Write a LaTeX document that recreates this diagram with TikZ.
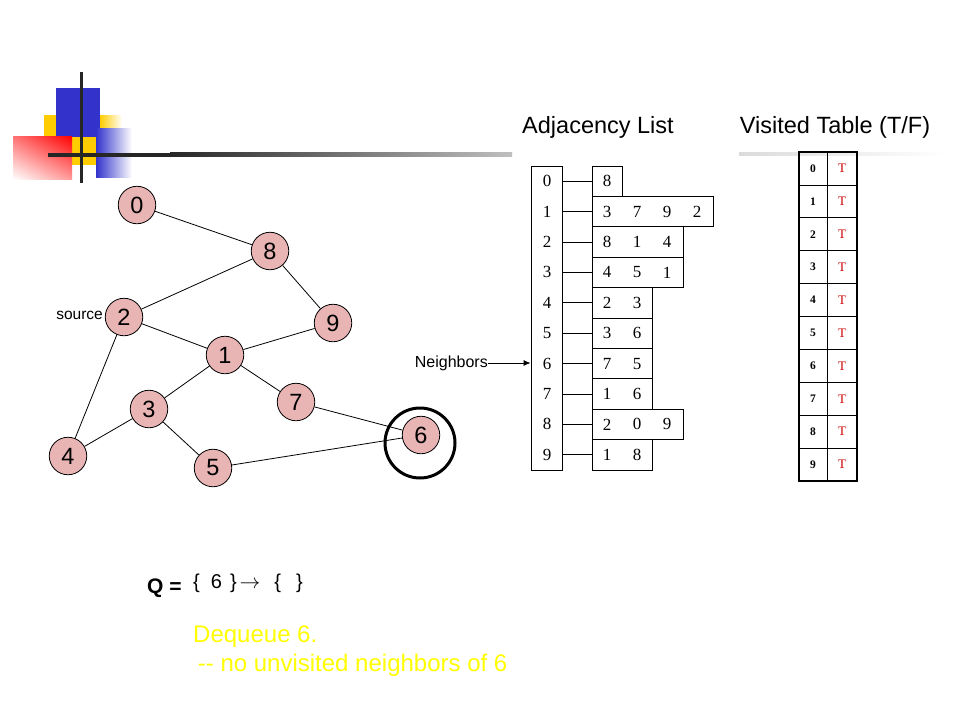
\documentclass[tikz,border=0pt]{standalone}
\usepackage{fontspec}
\setmainfont{Liberation Sans}
\newfontfamily\tnr{Liberation Serif}
\usetikzlibrary{arrows.meta,shadings}
\newcommand\myfs[1]{\fontsize{#1}{#1}\selectfont}
\definecolor{nodepink}{RGB}{232,180,180}
\definecolor{logoblue}{RGB}{51,51,204}
\definecolor{logoyellow}{RGB}{255,204,0}
\definecolor{tred}{RGB}{204,0,0}
\definecolor{qyellow}{RGB}{255,255,0}
\begin{document}
\begin{tikzpicture}[x=1pt,y=-1pt,
  gnode/.style={circle,draw=black,line width=0.8pt,fill=nodepink,minimum size=37.5pt,inner sep=0pt,font=\myfs{23.5}},
  edge/.style={draw=black,line width=0.8pt},
  listbox/.style={draw=black,line width=0.8pt,minimum height=30.4pt,inner sep=0pt,anchor=west},
  adjdigit/.style={font=\tnr\myfs{17},inner sep=0pt},
  vcell/.style={draw=black,line width=0.8pt,minimum height=32.9pt,inner sep=0pt},
  title/.style={font=\myfs{23.5},anchor=base,inner sep=0pt},
  msg/.style={anchor=base west,font=\myfs{24},text=qyellow,inner sep=0pt}
]
\useasboundingbox (0,0) rectangle (960,720);
\fill[white] (0,0) rectangle (960,720);

% logo
\fill[logoyellow] (44,115) rectangle (100,165);
\shade[left color=logoyellow,right color=white] (100,115) rectangle (122,165);
\fill[logoblue] (56,88) rectangle (100,137);
\shade[upper right=red,upper left=red!55,lower right=red!40,lower left=white] (13,136) rectangle (72,179);
\shade[left color=logoblue,right color=white] (96,128) rectangle (132,177);
\fill[black!85] (48,152.5) rectangle (170,156.5);
\shade[left color=black!85,right color=black!25] (170,152.5) rectangle (512,156.5);
\draw[line width=3pt,black!85] (81,72) -- (81,183);

% visited bar
\shade[left color=black!14,right color=white] (739,152.5) rectangle (945,155.5);

% titles
\node[title] (adjtitle) at (598,133) {Adjacency List};
\node[title] (vtitle) at (835,133) {Visited Table (T/F)};

% graph
\node[gnode] (n0) at (137,205) {0};
\node[gnode] (n8) at (270,251) {8};
\node[gnode] (n2) at (124,317) {2};
\node[gnode] (n9) at (333,323) {9};
\node[gnode] (n1) at (225,355) {1};
\node[gnode] (n3) at (149,409) {3};
\node[gnode] (n7) at (296,402) {7};
\node[gnode] (n6) at (421,435) {6};
\node[gnode] (n4) at (68,456) {4};
\node[gnode] (n5) at (213,468) {5};
\foreach \a/\b in {0/8,8/2,8/9,2/1,9/1,2/4,1/3,1/7,3/4,3/5,7/6,5/6}
  \draw[edge] (n\a) -- (n\b);
\node[circle,draw=black,line width=3pt,minimum size=70pt,inner sep=0pt] (ring) at (420,443) {};
\node[anchor=east,font=\myfs{15.5},inner sep=0pt] (src) at (103,315) {source};

% adjacency list
\node[draw=black,line width=0.8pt,minimum width=31pt,minimum height=304pt,inner sep=0pt] (adjcol) at (546.5,318) {};
\foreach \i/\n/\lst in {0/1/{8},1/4/{3,7,9,2},2/3/{8,1,4},3/3/{4,5,1},4/2/{2,3},5/2/{3,6},6/2/{7,5},7/2/{1,6},8/3/{2,0,9},9/2/{1,8}}{
  \node[adjdigit] (k\i) at (547,{166+30.4*(\i+0.5)}) {\i};
  \node[listbox,minimum width=\n*30.2pt] (l\i) at (592,{166+30.4*(\i+0.5)}) {};
  \foreach \d [count=\j from 0] in \lst
    \node[adjdigit] (l\i d\j) at ([xshift={(15+30*\j)*1pt}]l\i.west) {\d};
  \draw[edge] (adjcol.east |- l\i.west) -- (l\i.west);
}
\node[anchor=east,font=\myfs{16},inner sep=0pt] (nb) at (488,363) {Neighbors};
\draw[edge,-{Latex[length=7pt,width=6pt]}] (nb.east) -- (adjcol.west |- nb.east);

% visited table
\foreach \i in {0,...,9}{
  \node[vcell,minimum width=28pt,font=\tnr\bfseries\myfs{11.5}] (vd\i) at (813,{152+32.9*(\i+0.5)}) {\i};
  \node[vcell,minimum width=30pt,font=\tnr\myfs{13},text=tred] (vv\i) at (842,{152+32.9*(\i+0.5)}) {T};
}
\node[draw=black,line width=2.5pt,minimum width=58pt,minimum height=329pt,inner sep=0pt] (vt) at (828,316.5) {};

% queue
\node[anchor=base west,font=\bfseries\myfs{21},inner sep=0pt] (q) at (147,593) {Q =};
\node[anchor=base west,font=\myfs{20},inner sep=0pt] (qc) at (193,588) {\{\hspace{11pt}6\hspace{8pt}\}\hspace{3pt}$\rightarrow$\hspace{14pt}\{\hspace{15pt}\}};

% message
\node[msg] (m1) at (193,642) {Dequeue 6.};
\node[msg] (m2) at (191,671) {\ -{}- no unvisited neighbors of 6};
\end{tikzpicture}
\end{document}
